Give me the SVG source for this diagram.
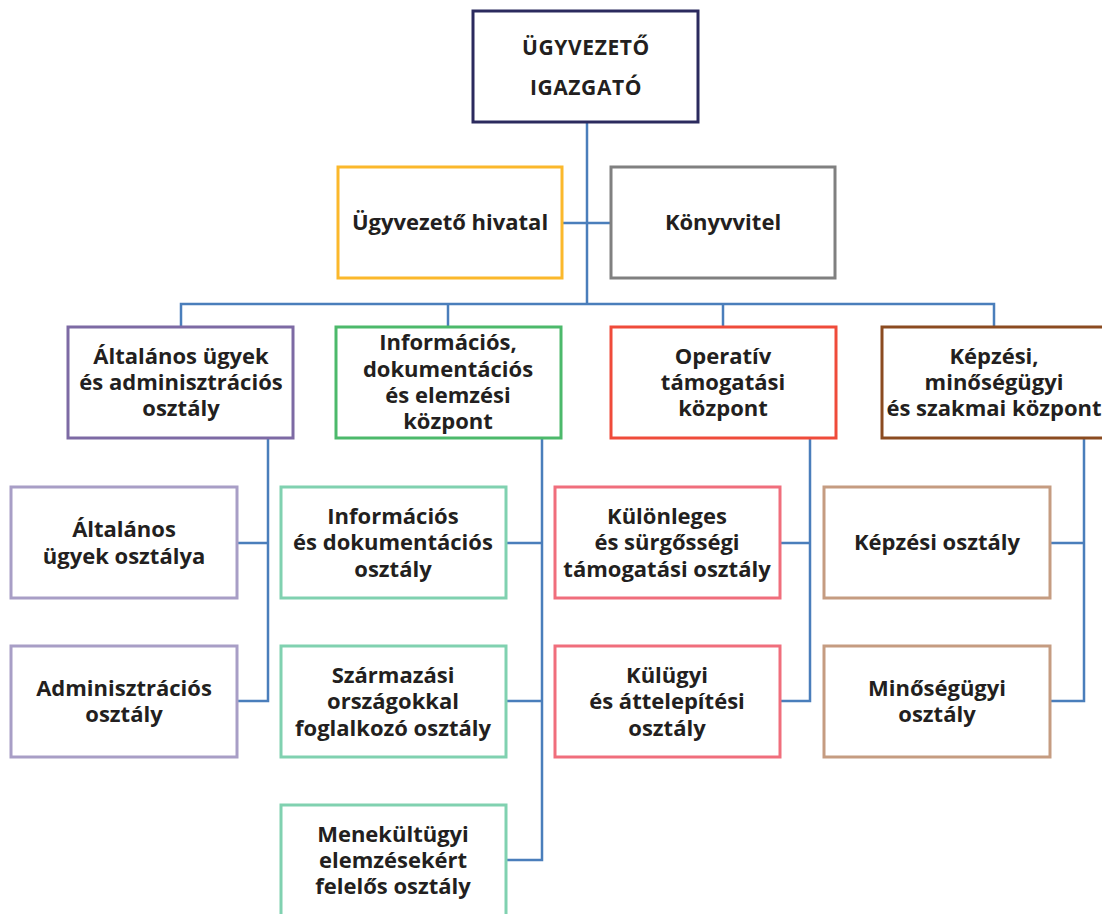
<svg xmlns="http://www.w3.org/2000/svg" width="1102" height="914" viewBox="0 0 1102 914">
<style>
.b{fill:#fff;stroke-width:3}
.t{font-family:"Open Sans","Noto Sans",sans-serif;font-weight:700;font-size:22px;fill:#231f20;text-anchor:middle}
.top{font-size:21px;letter-spacing:0.6px}
.c{fill:none;stroke:#4a7ebb;stroke-width:2.5}
</style>
<rect width="1102" height="914" fill="#fff"/>
<g id="connectors" class="c">
<path d="M587 122V304"/>
<path d="M562 223H611"/>
<path d="M181 327V304H994V327"/>
<path d="M448 304V327"/>
<path d="M723 304V327"/>
<path d="M268 438V701H237M237 543H268"/>
<path d="M542 438V860H506M506 543H542M506 701H542"/>
<path d="M810 438V701H780M780 543H810"/>
<path d="M1084 438V701H1050M1050 543H1084"/>
</g>
<g id="n-igazgato"><rect class="b" x="473" y="11" width="225" height="111" stroke="#2b2a5e"/>
<text class="t top" x="586" y="55">ÜGYVEZETŐ</text><text class="t top" x="586" y="95">IGAZGATÓ</text></g>
<g id="n-hivatal"><rect class="b" x="338" y="167" width="224" height="111" stroke="#fbb82b"/>
<text class="t" x="450" y="230">Ügyvezető hivatal</text></g>
<g id="n-konyvvitel"><rect class="b" x="611" y="167" width="224" height="111" stroke="#808080"/>
<text class="t" x="723" y="230">Könyvvitel</text></g>
<g id="n-altalanos"><rect class="b" x="68" y="327" width="225" height="111" stroke="#7d6aa4"/>
<text class="t" x="181" y="364">Általános ügyek</text><text class="t" x="181" y="390">és adminisztrációs</text><text class="t" x="181" y="416">osztály</text></g>
<g id="n-informacios"><rect class="b" x="336" y="327" width="225" height="111" stroke="#4cb96b"/>
<text class="t" x="448" y="350">Információs,</text><text class="t" x="448" y="377">dokumentációs</text><text class="t" x="448" y="403">és elemzési</text><text class="t" x="448" y="429">központ</text></g>
<g id="n-operativ"><rect class="b" x="611" y="327" width="225" height="111" stroke="#ef4b3a"/>
<text class="t" x="723" y="364">Operatív</text><text class="t" x="723" y="390">támogatási</text><text class="t" x="723" y="416">központ</text></g>
<g id="n-kepzesi"><rect class="b" x="882" y="327" width="226" height="111" stroke="#8b4b20"/>
<text class="t" x="994" y="364">Képzési,</text><text class="t" x="994" y="390">minőségügyi</text><text class="t" x="994" y="416">és szakmai központ</text></g>
<g id="n-altalanos-ugyek"><rect class="b" x="11" y="487" width="226" height="111" stroke="#a89ec6"/>
<text class="t" x="124" y="537">Általános</text><text class="t" x="124" y="564">ügyek osztálya</text></g>
<g id="n-adminisztracios"><rect class="b" x="11" y="646" width="226" height="111" stroke="#a89ec6"/>
<text class="t" x="124" y="696">Adminisztrációs</text><text class="t" x="124" y="722">osztály</text></g>
<g id="n-inf-dok"><rect class="b" x="281" y="487" width="225" height="111" stroke="#80d1b0"/>
<text class="t" x="393" y="524">Információs</text><text class="t" x="393" y="550">és dokumentációs</text><text class="t" x="393" y="577">osztály</text></g>
<g id="n-szarmazasi"><rect class="b" x="281" y="646" width="225" height="111" stroke="#80d1b0"/>
<text class="t" x="393" y="683">Származási</text><text class="t" x="393" y="709">országokkal</text><text class="t" x="393" y="736">foglalkozó osztály</text></g>
<g id="n-menekultugyi"><rect class="b" x="281" y="805" width="225" height="112" stroke="#80d1b0"/>
<text class="t" x="393" y="842">Menekültügyi</text><text class="t" x="393" y="868">elemzésekért</text><text class="t" x="393" y="894">felelős osztály</text></g>
<g id="n-kulonleges"><rect class="b" x="555" y="487" width="225" height="111" stroke="#f06e7c"/>
<text class="t" x="667" y="524">Különleges</text><text class="t" x="667" y="550">és sürgősségi</text><text class="t" x="667" y="577">támogatási osztály</text></g>
<g id="n-kulugyi"><rect class="b" x="555" y="646" width="225" height="111" stroke="#f06e7c"/>
<text class="t" x="667" y="683">Külügyi</text><text class="t" x="667" y="709">és áttelepítési</text><text class="t" x="667" y="736">osztály</text></g>
<g id="n-kepzesi-osztaly"><rect class="b" x="824" y="487" width="226" height="111" stroke="#c59c81"/>
<text class="t" x="937" y="550">Képzési osztály</text></g>
<g id="n-minosegugyi"><rect class="b" x="824" y="646" width="226" height="111" stroke="#c59c81"/>
<text class="t" x="937" y="696">Minőségügyi</text><text class="t" x="937" y="722">osztály</text></g>
</svg>
